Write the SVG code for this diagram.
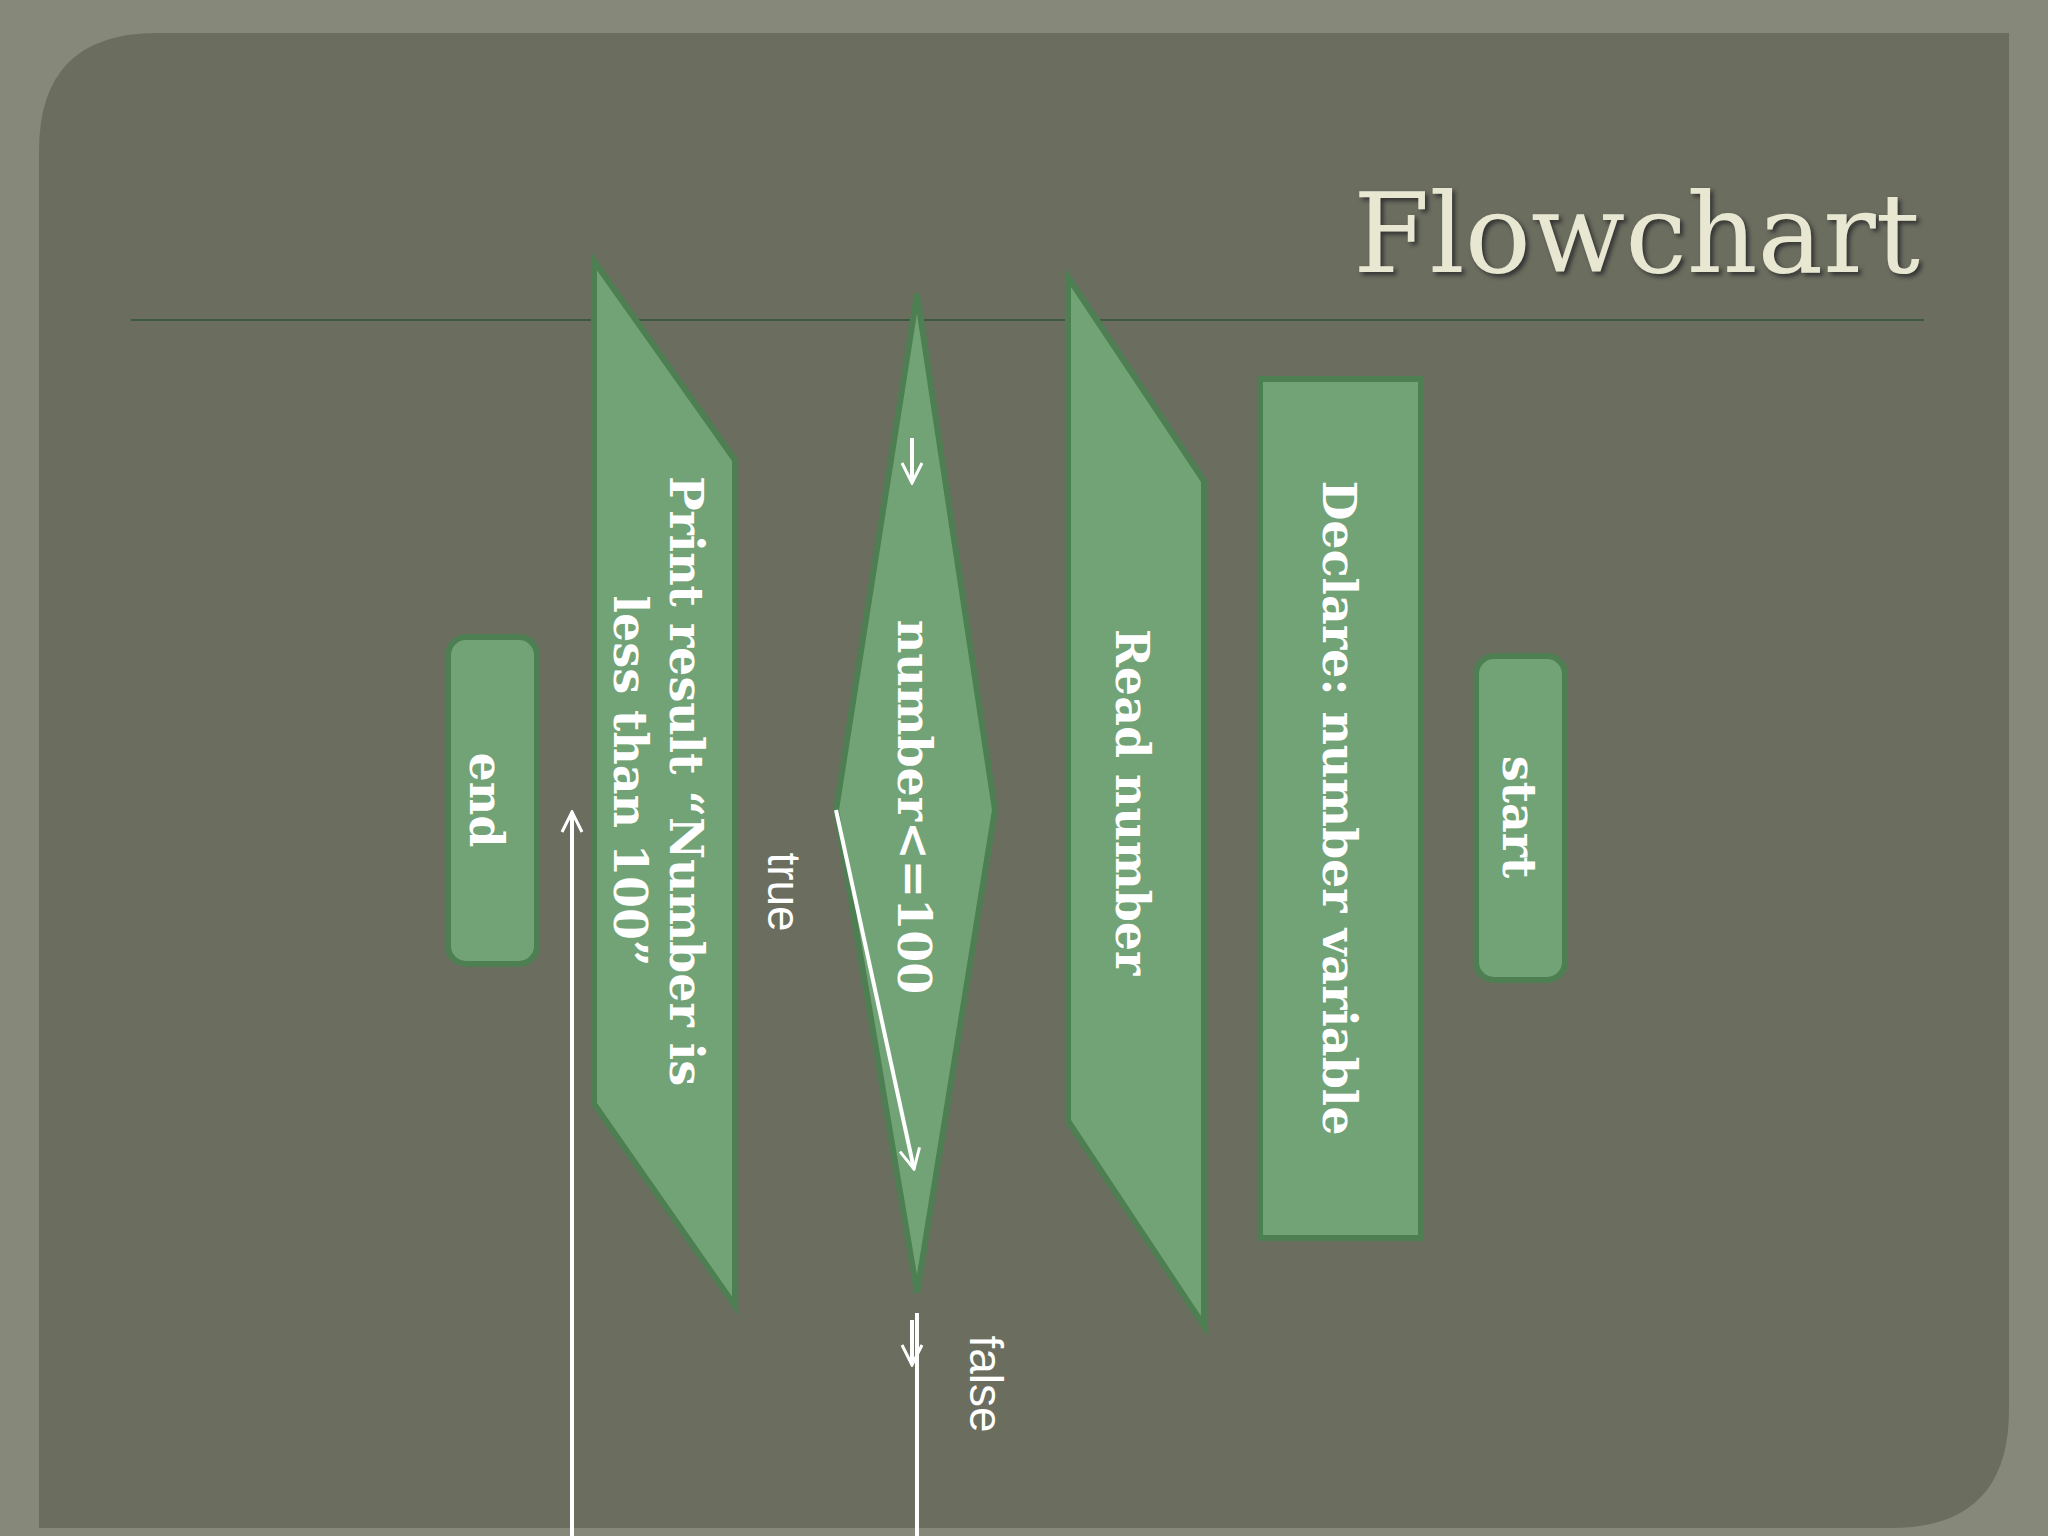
<svg xmlns="http://www.w3.org/2000/svg" width="2048" height="1536" viewBox="0 0 2048 1536">
<defs>
<style>
.sh{fill:#72a376;stroke:#4e7f53;stroke-width:6}
.t{fill:#fff;font-family:"DejaVu Serif",serif;font-weight:bold;font-size:46px;text-anchor:middle;dominant-baseline:central}
.l{fill:#fff;font-family:"Liberation Sans",sans-serif;font-size:46px;text-anchor:middle;dominant-baseline:central}
.c{stroke:#fff;stroke-width:4;fill:none}
</style>
<marker id="a" viewBox="0 0 12 12" refX="11" refY="6" markerWidth="6" markerHeight="6" orient="auto" markerUnits="strokeWidth"><path d="M1,1 L11,6 L1,11" fill="none" stroke="#fff" stroke-width="1.5"/></marker>
</defs>
<rect width="2048" height="1536" fill="#86887a"/>
<path d="M157,33 H2009 V1410 Q2009,1528 1891,1528 H39 V151 Q39,33 157,33 Z" fill="#6b6d5f"/>
<text x="1920" y="272" font-family="DejaVu Serif,serif" font-size="110" fill="#e8e8d2" text-anchor="end" style="text-shadow:3px 3px 4px #333">Flowchart</text>
<line x1="131" y1="320" x2="1924" y2="320" stroke="#3d5a40" stroke-width="2"/>
<g id="print"><polygon class="sh" points="594,261 735,460 735,1306 594,1104"/>
<text class="t" transform="translate(686,781) rotate(90)">Print result “Number is</text>
<text class="t" transform="translate(630,781) rotate(90)">less than 100”</text></g>
<g id="decision"><polygon class="sh" points="917,294 995,810 917,1293 836,810"/>
<text class="t" transform="translate(914,807) rotate(90)">number&lt;=100</text></g>
<g id="read"><polygon class="sh" points="1068,277 1204,481 1204,1326 1068,1121"/>
<text class="t" transform="translate(1132,802) rotate(90)">Read number</text></g>
<g id="declare"><rect class="sh" x="1260" y="379" width="161" height="859"/>
<text class="t" transform="translate(1339,808) rotate(90)">Declare: number variable</text></g>
<g id="start"><rect class="sh" x="1476" y="656" width="89" height="324" rx="18"/>
<text class="t" transform="translate(1519,817) rotate(90)">start</text></g>
<g id="end"><rect class="sh" x="448" y="637" width="89" height="327" rx="18"/>
<text class="t" transform="translate(486,800) rotate(90)">end</text></g>
<g id="connectors">
<line class="c" x1="912" y1="438" x2="912" y2="483" marker-end="url(#a)"/>
<line class="c" x1="836" y1="810" x2="914" y2="1169" marker-end="url(#a)"/>
<line class="c" x1="917" y1="1313" x2="917" y2="1536"/>
<line class="c" x1="912" y1="1320" x2="912" y2="1365" marker-end="url(#a)"/>
<line class="c" x1="572" y1="1536" x2="572" y2="812" marker-end="url(#a)"/>
<text class="l" transform="translate(784,892) rotate(90)">true</text>
<text class="l" transform="translate(986,1384) rotate(90)">false</text>
</g>
</svg>
